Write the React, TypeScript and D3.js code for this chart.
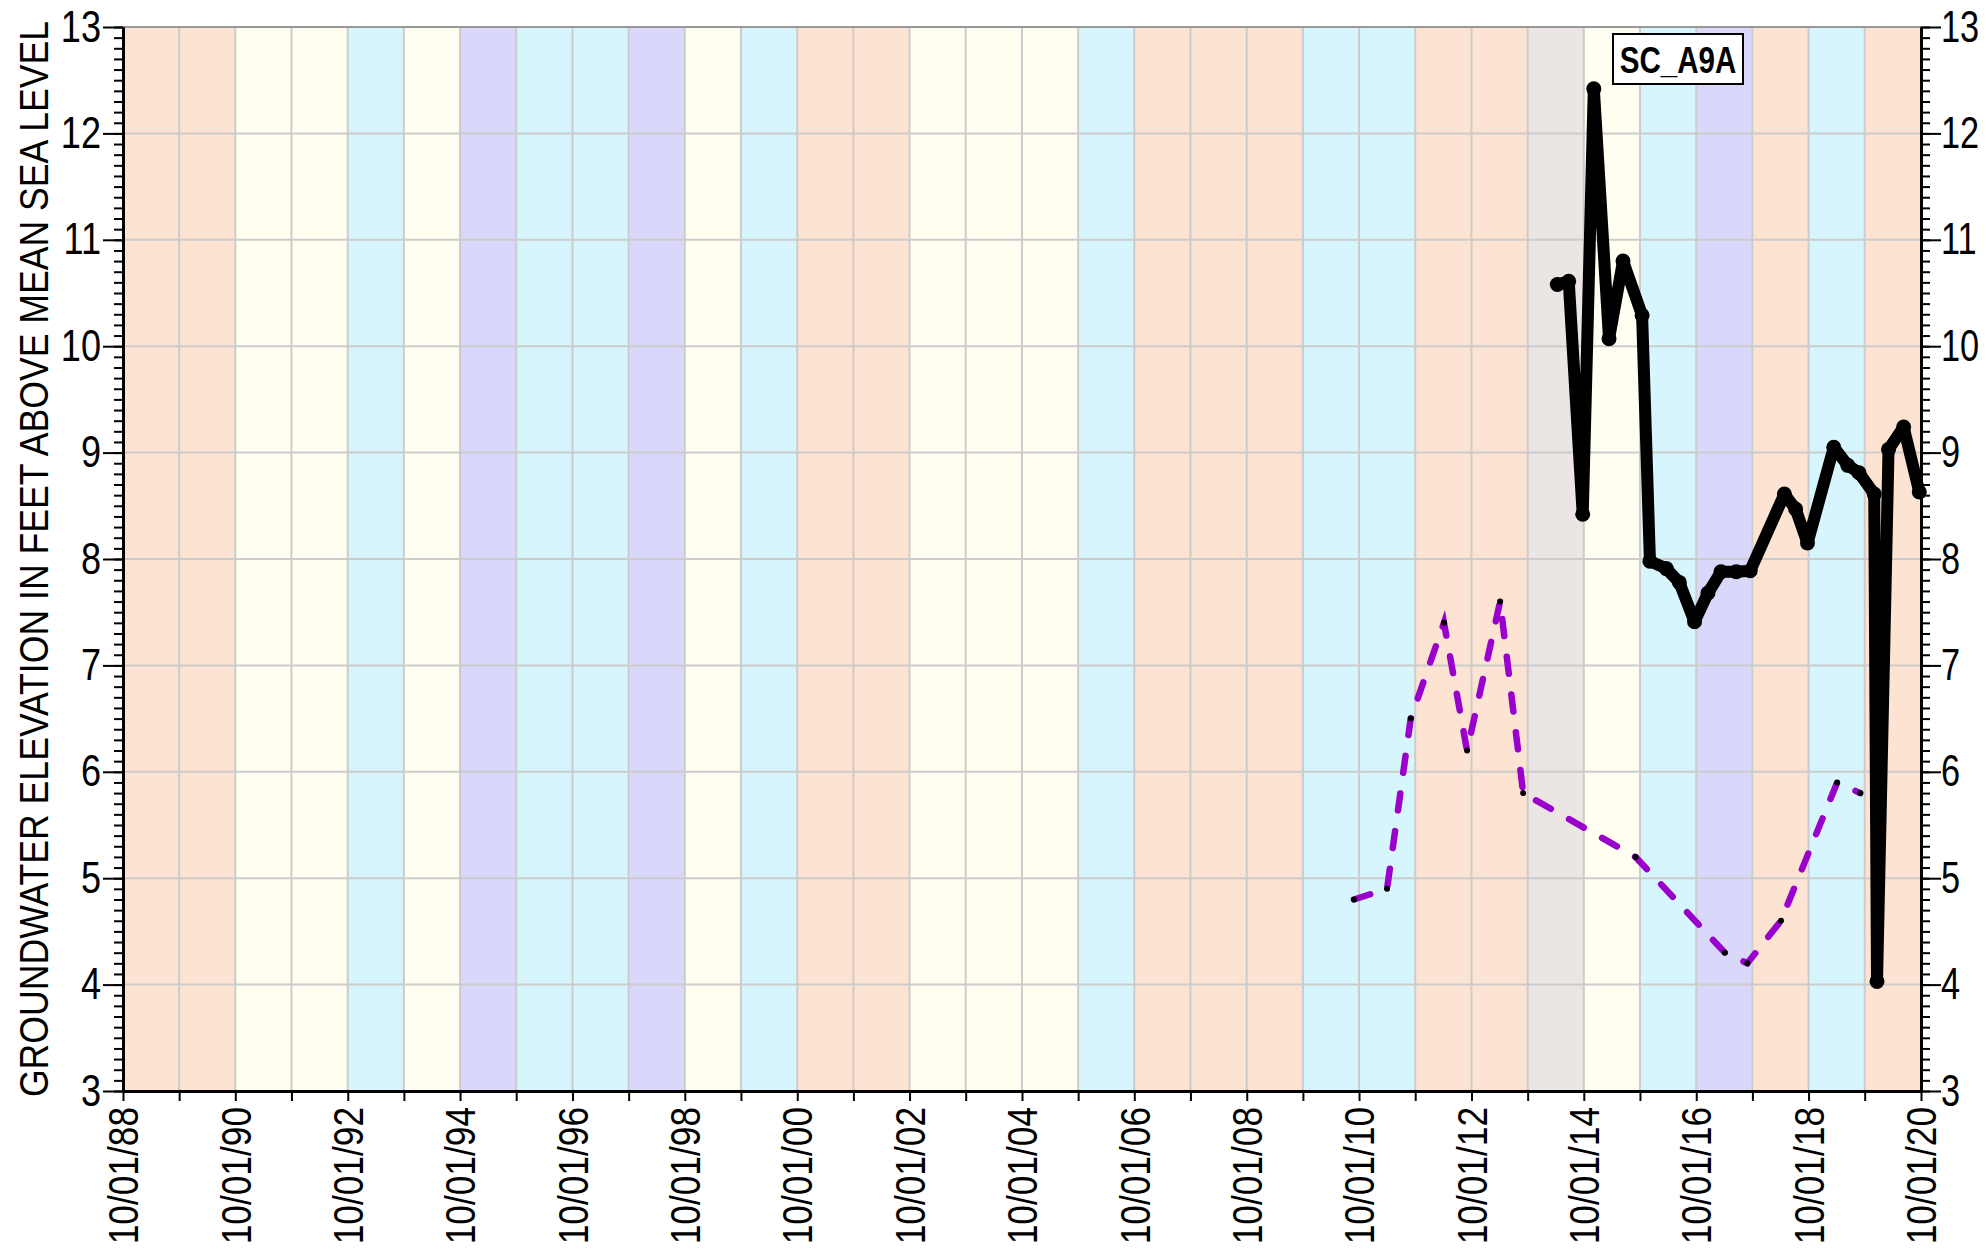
import React, { useEffect, useRef } from 'react';
import * as d3 from 'd3';

const WIDTH = 1986;
const HEIGHT = 1251;
const FONT = "'Liberation Sans', Arial, sans-serif";
const NARROW = 0.82; // squeeze Arial metrics down to a narrow face

// water year types, WY1989 .. WY2020 (each band runs 10/01 to 09/30)
const firstWaterYear = 1989;
const waterYearTypes = [
  'dry', 'dry', 'below', 'below', 'above', 'below', 'wet', 'above', 'above', 'wet',
  'below', 'above', 'dry', 'dry', 'below', 'below', 'below', 'above', 'dry', 'dry',
  'dry', 'above', 'above', 'dry', 'dry', 'critical', 'below', 'above', 'wet', 'dry',
  'above', 'dry',
];
const bandColors: Record<string, string> = {
  dry: '#FDE3D1',
  below: '#FFFEF0',
  above: '#D6F5FC',
  wet: '#D9D8FA',
  critical: '#EBE5E3',
};

// SC_A9A groundwater elevations (ft msl)
const wellDates = [
  '2014-04-12', '2014-06-25', '2014-09-24', '2014-12-05', '2015-03-14', '2015-06-13',
  '2015-10-15', '2015-12-05', '2016-03-20', '2016-06-13', '2016-09-20', '2016-12-16',
  '2017-03-11', '2017-06-18', '2017-09-17', '2018-04-27', '2018-07-09', '2018-09-24',
  '2019-03-14', '2019-06-13', '2019-08-25', '2019-12-02', '2019-12-20', '2020-03-04',
  '2020-06-10', '2020-09-20',
];
const wellValues = [
  10.58, 10.61, 8.42, 12.42, 10.07, 10.80,
  10.29, 7.98, 7.91, 7.78, 7.41, 7.68,
  7.88, 7.88, 7.89, 8.61, 8.47, 8.15,
  9.05, 8.88, 8.81, 8.61, 4.03, 9.03,
  9.24, 8.63,
];

// second (dashed) series
const compDates = [
  '2010-08-29', '2011-04-01', '2011-09-02', '2012-04-05', '2012-09-02', '2013-04-05',
  '2013-09-02', '2015-09-02', '2017-04-05', '2017-08-29', '2018-04-05', '2019-04-05',
  '2019-09-02',
];
const compValues = [4.8, 4.9, 6.5, 7.4, 6.2, 7.6, 5.8, 5.2, 4.3, 4.2, 4.6, 5.9, 5.8];

const yMajorTicks = [3, 4, 5, 6, 7, 8, 9, 10, 11, 12, 13];
const xStartYear = 1988;
const xEndYear = 2020;
const wellName = 'SC_A9A';
const yTitle = 'GROUNDWATER ELEVATION IN FEET ABOVE MEAN SEA LEVEL';

// squeeze each text horizontally (along its own baseline)
const condense = (sel: d3.Selection<any, any, any, any>, factor = NARROW) => {
  sel.each(function () {
    const node = this as SVGTextElement;
    const len = node.getComputedTextLength();
    if (len > 0) {
      node.setAttribute('textLength', String(len * factor));
      node.setAttribute('lengthAdjust', 'spacingAndGlyphs');
    }
  });
};

export default function App() {
  const svgRef = useRef<SVGSVGElement | null>(null);

  useEffect(() => {
    if (!svgRef.current) return;
    const svg = d3.select(svgRef.current);
    svg.selectAll('*').remove();

    const left = 123, right = 1921, top = 27, bottom = 1091;
    const parse = d3.timeParse('%Y-%m-%d');

    const x = d3.scaleTime()
      .domain([new Date(xStartYear, 9, 1), new Date(xEndYear, 9, 1)])
      .range([left, right]);
    const y = d3.scaleLinear().domain([3, 13]).range([bottom, top]);

    // water-year bands
    svg.append('g')
      .selectAll('rect')
      .data(waterYearTypes)
      .enter()
      .append('rect')
      .attr('x', (_, i) => x(new Date(firstWaterYear + i - 1, 9, 1)))
      .attr('width', (_, i) => x(new Date(firstWaterYear + i, 9, 1)) - x(new Date(firstWaterYear + i - 1, 9, 1)))
      .attr('y', top)
      .attr('height', bottom - top)
      .attr('fill', d => bandColors[d]);

    // grid
    const yearTicks = d3.range(xStartYear, xEndYear + 1).map(yr => new Date(yr, 9, 1));
    const grid = svg.append('g').attr('stroke', '#CCCCCC').attr('stroke-width', 2);
    grid.selectAll('line.v')
      .data(yearTicks)
      .enter()
      .append('line')
      .attr('x1', d => x(d)).attr('x2', d => x(d))
      .attr('y1', top).attr('y2', bottom);
    grid.selectAll('line.h')
      .data(yMajorTicks)
      .enter()
      .append('line')
      .attr('x1', left).attr('x2', right)
      .attr('y1', d => y(d)).attr('y2', d => y(d));

    svg.append('line')
      .attr('x1', left).attr('x2', right).attr('y1', top).attr('y2', top)
      .attr('stroke', '#999999').attr('stroke-width', 2);

    // dashed series
    const compData = compDates.map((d, i) => ({ date: parse(d) as Date, value: compValues[i] }));
    const line = d3.line<{ date: Date; value: number }>()
      .x(d => x(d.date))
      .y(d => y(d.value));
    svg.append('path')
      .datum(compData)
      .attr('fill', 'none')
      .attr('stroke', '#9900CC')
      .attr('stroke-width', 6.5)
      .attr('stroke-linecap', 'round')
      .attr('stroke-dasharray', '17 21')
      .attr('d', line);
    svg.append('g')
      .selectAll('circle')
      .data(compData)
      .enter()
      .append('circle')
      .attr('cx', d => x(d.date))
      .attr('cy', d => y(d.value))
      .attr('r', 3)
      .attr('fill', '#000');

    // main well series
    const wellData = wellDates.map((d, i) => ({ date: parse(d) as Date, value: wellValues[i] }));
    svg.append('path')
      .datum(wellData)
      .attr('fill', 'none')
      .attr('stroke', '#000')
      .attr('stroke-width', 12)
      .attr('stroke-linejoin', 'round')
      .attr('stroke-linecap', 'round')
      .attr('d', line);
    svg.append('g')
      .selectAll('circle')
      .data(wellData)
      .enter()
      .append('circle')
      .attr('cx', d => x(d.date))
      .attr('cy', d => y(d.value))
      .attr('r', 7.5)
      .attr('fill', '#000');

    // axes
    const minorTicks = d3.range(30, 131).map(v => v / 10);
    const styleAxis = (g: d3.Selection<SVGGElement, unknown, null, undefined>) => {
      g.selectAll('.domain').attr('stroke', '#000').attr('stroke-width', 3);
      g.selectAll('.tick line').attr('stroke', '#000').attr('stroke-width', 2);
      g.selectAll('.tick text')
        .attr('fill', '#000')
        .style('font-family', FONT)
        .style('font-size', '44px');
    };

    const yMinorL = svg.append('g').attr('transform', `translate(${left},0)`)
      .call(d3.axisLeft(y).tickValues(minorTicks).tickSize(9).tickSizeOuter(0).tickFormat(() => ''));
    const yMajorL = svg.append('g').attr('transform', `translate(${left},0)`)
      .call(d3.axisLeft(y).tickValues(yMajorTicks).tickSize(20).tickSizeOuter(0).tickPadding(2).tickFormat(d3.format('d')));
    const yMinorR = svg.append('g').attr('transform', `translate(${right},0)`)
      .call(d3.axisRight(y).tickValues(minorTicks).tickSize(9).tickSizeOuter(0).tickFormat(() => ''));
    const yMajorR = svg.append('g').attr('transform', `translate(${right},0)`)
      .call(d3.axisRight(y).tickValues(yMajorTicks).tickSize(20).tickSizeOuter(0).tickPadding(0).tickFormat(d3.format('d')));
    [yMinorL, yMajorL, yMinorR, yMajorR].forEach(styleAxis);
    condense(yMajorL.selectAll('.tick text'));
    condense(yMajorR.selectAll('.tick text'), 0.78);

    const fmt = d3.timeFormat('%m/%d/%y');
    const xAxis = svg.append('g').attr('transform', `translate(0,${bottom})`)
      .call(d3.axisBottom(x).tickValues(yearTicks).tickSize(10).tickSizeOuter(0)
        .tickFormat((d, i) => (i % 2 === 0 ? fmt(d as Date) : '')));
    styleAxis(xAxis);
    xAxis.selectAll('.tick text')
      .attr('transform', 'rotate(-90)')
      .attr('text-anchor', 'end')
      .attr('x', -16)
      .attr('y', 0)
      .attr('dy', '0.35em')
      .style('font-size', '42px');
    condense(xAxis.selectAll('.tick text'), 0.84);

    // y title
    const title = svg.append('text')
      .attr('transform', `translate(34,${(top + bottom) / 2}) rotate(-90)`)
      .attr('text-anchor', 'middle')
      .attr('dominant-baseline', 'central')
      .style('font-family', FONT)
      .style('font-size', '40px')
      .text(yTitle);
    condense(title, 0.89);

    // well label box
    const lbl = svg.append('g');
    lbl.append('rect')
      .attr('x', 1613).attr('y', 34).attr('width', 130).attr('height', 50)
      .attr('fill', '#fff').attr('stroke', '#000').attr('stroke-width', 2);
    const lblText = lbl.append('text')
      .attr('x', 1678).attr('y', 60)
      .attr('text-anchor', 'middle')
      .attr('dominant-baseline', 'central')
      .style('font-family', FONT)
      .style('font-weight', 'bold')
      .style('font-size', '36px')
      .text(wellName);
    condense(lblText);
  }, []);

  return (
    <svg
      ref={svgRef}
      width={WIDTH}
      height={HEIGHT}
      style={{ position: 'absolute', left: 0, top: 0, background: '#fff', display: 'block' }}
    />
  );
}
